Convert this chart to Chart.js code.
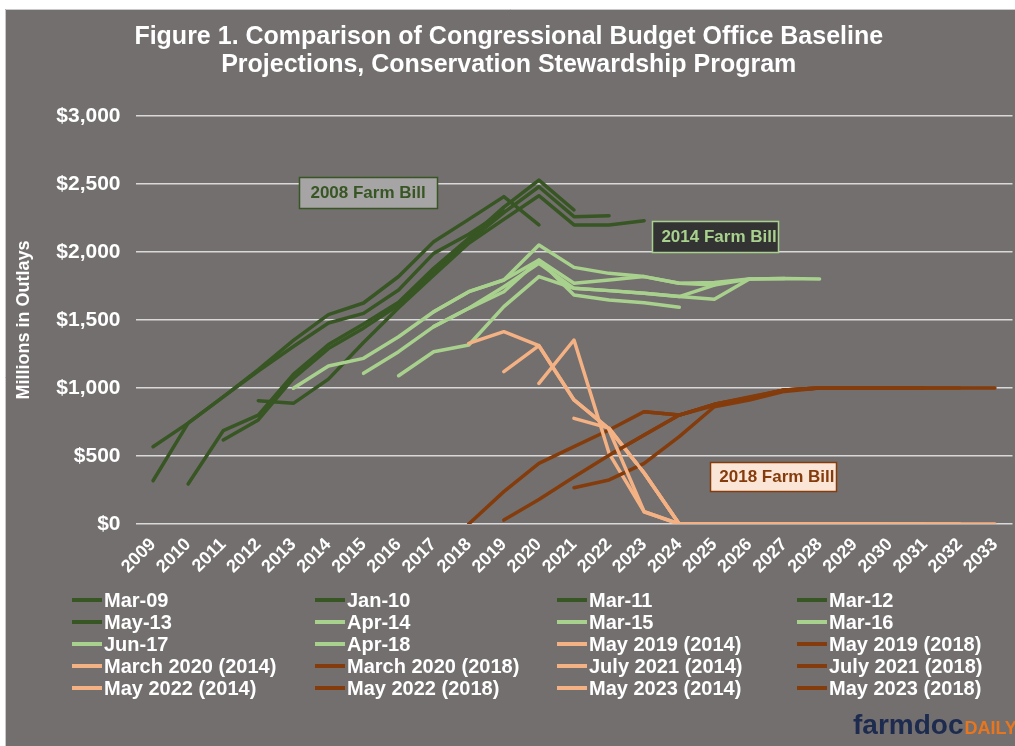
<!DOCTYPE html>
<html>
<head>
<meta charset="utf-8">
<script src="https://cdn.jsdelivr.net/npm/chart.js@4"></script>
<style>
body{margin:0;background:#fff;}
#wrap{position:absolute;left:5px;top:9px;width:1010px;height:737px;}
</style>
</head>
<body>
<div id="wrap"><canvas id="cspChart"></canvas></div>
<script>
// CBO baseline projections for CSP outlays, $ millions

const years = ["2009","2010","2011","2012","2013","2014","2015","2016","2017","2018","2019","2020","2021",
"2022","2023","2024","2025","2026","2027","2028","2029","2030","2031","2032","2033"];

const yTicks = [0,500,1000,1500,2000,2500,3000];

// 2008 farm bill baselines
const mar09 = [568,742,935,1125,1305,1478,1549,1721,1990,2130,2300];
const jan10 = [318,742,935,1135,1350,1540,1625,1820,2076,2240,2407,2200];
const mar11 = [294,686,801,1100,1320,1470,1630,1880,2100,2330,2529,2309];
const mar12 = [618,765,1070,1290,1440,1610,1860,2080,2290,2480,2260,2267];
const may13 = [907,887,1065,1335,1590,1830,2064,2240,2414,2199,2199,2230];

// 2014 farm bill baselines
const apr14 = [998,1162,1218,1377,1561,1708,1794,1941,1684,1647,1627,1593];
const mar15 = [1108,1267,1451,1586,1745,1917,1733,1716,1696,1672,1757];
const mar16 = [1090,1267,1316,1598,1819,1733,1716,1696,1672,1652,1801];
const jun17 = [1451,1586,1708,1941,1770,1794,1819,1770,1757,1801,1806];
const apr18 = [1561,1708,1794,2051,1887,1843,1819,1770,1775,1801,1806,1801];

// 2018 farm bill era baselines, 2014 and 2018 programs
const may19_14 = [1328,1414,1311,912,700,375,0,0,0,0,0,0];
const may19_18 = [0,238,446,569,691,826,801,880,930,985,1000,1000];
const mar20_14 = [1120,1311,912,700,375,0,0,0,0,0,0,0];
const mar20_18 = [29,180,345,505,654,801,870,925,985,1000,1000,1000];
const jul21_14 = [1034,1353,520,90,0,0,0,0,0,0,0,0];
const jul21_18 = [267,324,446,642,862,912,975,1000,1000,1000,1000];
const may22_14 = [777,705,375,0,0,0,0,0,0,0,0,0];
const may22_18 = [505,654,801,880,925,985,1000,1000,1000,1000,1000];
const may23_14 = [690,90,0,0,0,0,0,0,0,0,0,0];
const may23_18 = [826,801,880,935,985,1000,1000,1000,1000,1000,1000];

const dkGreen = "#375623";
const ltGreen = "#a9d18e";
const ltOrange = "#f4b183";
const brown = "#843c0c";

const series = [
["Mar-09",2009,mar09,dkGreen],
["Jan-10",2009,jan10,dkGreen],
["Mar-11",2010,mar11,dkGreen],
["Mar-12",2011,mar12,dkGreen],
["May-13",2012,may13,dkGreen],
["Apr-14",2013,apr14,ltGreen],
["Mar-15",2015,mar15,ltGreen],
["Mar-16",2016,mar16,ltGreen],
["Jun-17",2017,jun17,ltGreen],
["Apr-18",2017,apr18,ltGreen],
["May 2019 (2014)",2018,may19_14,ltOrange],
["May 2019 (2018)",2018,may19_18,brown],
["March 2020 (2014)",2019,mar20_14,ltOrange],
["March 2020 (2018)",2019,mar20_18,brown],
["July 2021 (2014)",2020,jul21_14,ltOrange],
["July 2021 (2018)",2021,jul21_18,brown],
["May 2022 (2014)",2021,may22_14,ltOrange],
["May 2022 (2018)",2022,may22_18,brown],
["May 2023 (2014)",2022,may23_14,ltOrange],
["May 2023 (2018)",2023,may23_18,brown]
];

function pad(start, vals){
let arr = years.map(function(){ return null; });
vals.forEach(function(v,i){ arr[start-2009+i] = v; });
return arr;
}

const datasets = series.map(function(s,i){
return {
label:s[0],
data:pad(s[1],s[2]),
borderColor:s[3],
backgroundColor:s[3],
borderWidth:3.5,
pointRadius:0,
tension:0,
fill:false,
borderCapStyle:"round",
borderJoinStyle:"round",
spanGaps:false,
order:-i // later series drawn on top, like Excel
};
});

const font = "'Liberation Sans', Arial, sans-serif";

// text boxes: center given in category index / dollar value
const notes = [
{text:"2008 Farm Bill", xi:6.13, yv:2437, w:138, h:31, dx:0, fill:"#a6a4a4", line:dkGreen, color:dkGreen},
{text:"2014 Farm Bill", xi:16.02, yv:2114, w:126, h:31, dx:4, fill:"#333333", line:ltGreen, color:ltGreen},
{text:"2018 Farm Bill", xi:17.67, yv:349, w:126, h:29, dx:4, fill:"#fbe5d6", line:brown, color:brown}
];

const extras = {
id:"extras",
beforeDraw(chart){
const c = chart.ctx;
c.save();
c.fillStyle = "#736f6e";
c.fillRect(0,0,chart.width,chart.height);
c.strokeStyle = "#c9c9c9";
c.lineWidth = 1;
c.beginPath();
c.moveTo(0.5,chart.height);
c.lineTo(0.5,0.5);
c.lineTo(chart.width,0.5);
c.stroke();
c.restore();
},
afterDatasetsDraw(chart){
const c = chart.ctx;
const xs = chart.scales.x, ys = chart.scales.y;
c.save();
c.font = "bold 17px " + font;
c.textAlign = "center";
c.textBaseline = "middle";
notes.forEach(function(n){
let cx = xs.getPixelForValue(n.xi);
let cy = ys.getPixelForValue(n.yv);
let l = Math.round(cx - n.w/2) + 0.5, t = Math.round(cy - n.h/2) + 0.5;
c.fillStyle = n.fill;
c.fillRect(l,t,n.w,n.h);
c.strokeStyle = n.line;
c.lineWidth = 1.5;
c.strokeRect(l,t,n.w,n.h);
c.fillStyle = n.color;
c.fillText(n.text,cx+n.dx,cy+1);
});
c.restore();
},
afterDraw(chart){
const c = chart.ctx;
c.save();
// legend, 4 columns
const colX = [67,310,552,792];
const rowY = [591,613,635,657,679];
c.font = "bold 20px " + font;
c.textBaseline = "middle";
c.textAlign = "left";
chart.data.datasets.forEach(function(ds,i){
let x = colX[i%4], y = rowY[Math.floor(i/4)];
c.strokeStyle = ds.borderColor;
c.lineWidth = 4;
c.lineCap = "butt";
c.beginPath();
c.moveTo(x,y);
c.lineTo(x+30,y);
c.stroke();
c.fillStyle = "#ffffff";
c.fillText(ds.label,x+32,y+1);
});
// farmdoc daily logo
c.textBaseline = "alphabetic";
c.font = "bold 28px " + font;
c.fillStyle = "#1d2b4f";
c.fillText("farmdoc",848,725);
let w = c.measureText("farmdoc").width;
c.font = "bold 18px " + font;
c.fillStyle = "#e8761e";
c.fillText("DAILY",848+w+1,725);
c.restore();
}
};

const ctx = document.getElementById("cspChart").getContext("2d");

new Chart(ctx,{
type:"line",
data:{labels:years, datasets:datasets},
options:{
responsive:true,
maintainAspectRatio:false,
animation:false,
devicePixelRatio:1,
layout:{padding:{left:0,right:2.5,top:0,bottom:162}},
plugins:{
legend:{display:false},
tooltip:{enabled:false},
title:{
display:true,
text:["Figure 1. Comparison of Congressional Budget Office Baseline","Projections, Conservation Stewardship Program"],
color:"#ffffff",
font:{family:font,size:25,weight:"bold",lineHeight:1.12},
padding:{top:14,bottom:37}
}
},
scales:{
x:{
offset:true,
grid:{display:false},
border:{display:false},
ticks:{
color:"#ffffff",
font:{family:font,size:18,weight:"bold"},
minRotation:45,
maxRotation:45,
autoSkip:false,
padding:2
},
afterFit(scale){
scale.height = 60;
scale.paddingLeft = 0;
scale.paddingRight = 0;
}
},
y:{
min:0,
max:3000,
afterBuildTicks(scale){
scale.ticks = yTicks.map(function(v){ return {value:v}; });
},
grid:{color:"#d9d9d9",lineWidth:1.5,drawTicks:false},
border:{display:false},
ticks:{
color:"#ffffff",
font:{family:font,size:21,weight:"bold"},
padding:15,
callback:function(v){ return "$" + v.toLocaleString("en-US"); }
},
title:{
display:true,
text:"Millions in Outlays",
color:"#ffffff",
font:{family:font,size:18,weight:"bold"},
padding:{top:8,bottom:0}
},
afterFit(scale){
scale.width = 130.5;
scale.paddingTop = 0;
scale.paddingBottom = 0;
}
}
}
},
plugins:[extras]
});
</script>
</body>
</html>
